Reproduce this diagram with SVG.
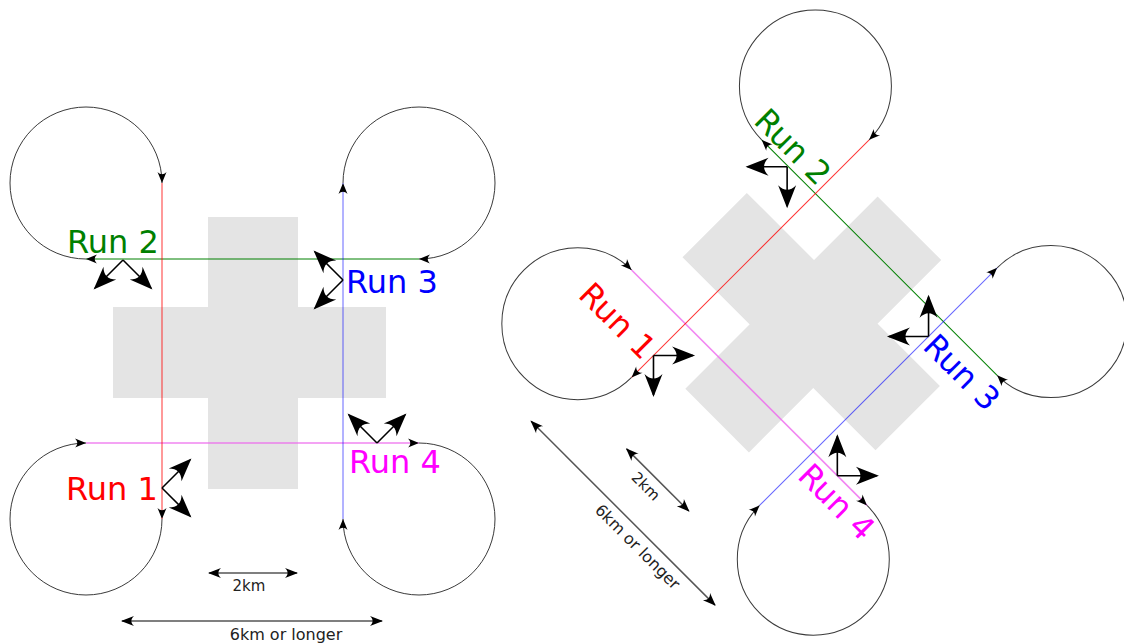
<svg xmlns="http://www.w3.org/2000/svg" width="1124" height="644" viewBox="0 0 1124 644">
<style>
.bg{fill:#fff}
.cross{fill:#e4e4e4;stroke:none}
.loop{fill:none;stroke:#3a3a3a;stroke-width:1;marker-end:url(#arr)}
.run1{fill:none;stroke:#ff0000;stroke-opacity:0.8;stroke-width:1;marker-end:url(#arr)}
.run2{fill:none;stroke:#008000;stroke-width:1;marker-end:url(#arr)}
.run3{fill:none;stroke:#0000ff;stroke-opacity:0.6;stroke-width:1;marker-end:url(#arr)}
.run4{fill:none;stroke:#ee66ee;stroke-opacity:0.8;stroke-width:1.6;marker-end:url(#arr)}
.axis{fill:none;stroke:#000;stroke-width:1.6;marker-end:url(#big)}
.dim{fill:none;stroke:#555;stroke-width:1.5;marker-start:url(#dimarr);marker-end:url(#dimarr)}
.lbl{font-family:"DejaVu Sans","Verdana",sans-serif;font-size:32px}
.dimtxt{font-family:"DejaVu Sans","Verdana",sans-serif;fill:#222}
</style>
<defs>
<marker id="arr" viewBox="-12 -6 14 12" refX="0" refY="0" markerWidth="14" markerHeight="12" markerUnits="userSpaceOnUse" orient="auto">
<path d="M0,0 L-11,-4.5 C-8,-1.5 -8,1.5 -11,4.5 Z" fill="#000"/>
</marker>
<marker id="dimarr" viewBox="-14 -6 16 12" refX="0" refY="0" markerWidth="16" markerHeight="12" markerUnits="userSpaceOnUse" orient="auto-start-reverse">
<path d="M1,0 L-12,-5 C-8.5,-1.5 -8.5,1.5 -12,5 Z" fill="#000"/>
</marker>
<marker id="big" viewBox="-24 -11 28 22" refX="0" refY="0" markerWidth="28" markerHeight="22" markerUnits="userSpaceOnUse" orient="auto">
<path d="M2,0 L-21,-9 C-15,-3 -15,3 -21,9 Z" fill="#000"/>
</marker>
</defs>
<rect class="bg" x="0" y="0" width="1124" height="644"/>

<g id="diagram-left">
  <g id="cross">
    <rect class="cross" x="208" y="217" width="90" height="272"/>
    <rect class="cross" x="113" y="307" width="273" height="91"/>
  </g>
  <g id="loop-nw"><path class="loop" d="M86,259 A76,76 0 1 1 162,183"/></g>
  <g id="loop-ne"><path class="loop" d="M343,183 A76,76 0 1 1 419,259"/></g>
  <g id="loop-sw"><path class="loop" d="M162,519 A76,76 0 1 1 86,443"/></g>
  <g id="loop-se"><path class="loop" d="M419,443 A76,76 0 1 1 343,519"/></g>
  <g id="connectors">
    <path class="run4" d="M86,443 H419"/>
    <path class="run2" d="M419,259 H86"/>
    <path class="run3" d="M343,519 V183"/>
    <path class="run1" d="M162,183 V519"/>
  </g>
  <g id="run2">
    <text class="lbl" x="67" y="253" fill="#008000">Run 2</text>
    <path class="axis" d="M123,260 L95,288"/>
    <path class="axis" d="M123,260 L151,288"/>
  </g>
  <g id="run3">
    <text class="lbl" x="346" y="293" fill="#0000ff">Run 3</text>
    <path class="axis" d="M343,280 L315,252"/>
    <path class="axis" d="M343,280 L315,308"/>
  </g>
  <g id="run1">
    <text class="lbl" x="66" y="500" fill="#ff0000">Run 1</text>
    <path class="axis" d="M162,488 L190,460"/>
    <path class="axis" d="M162,488 L190,516"/>
  </g>
  <g id="run4">
    <text class="lbl" x="349" y="473" fill="#ff00ff">Run 4</text>
    <path class="axis" d="M377,443 L349,415"/>
    <path class="axis" d="M377,443 L405,415"/>
  </g>
  <g id="scale-2km">
    <path class="dim" d="M209,573 H297"/>
    <text class="dimtxt" x="249" y="591" font-size="15" text-anchor="middle">2km</text>
  </g>
  <g id="scale-6km">
    <path class="dim" d="M122,621 H382"/>
    <text class="dimtxt" x="286" y="640" font-size="16" text-anchor="middle">6km or longer</text>
  </g>
</g>

<g id="diagram-right" transform="translate(814,323) rotate(45) translate(-252.5,-351.5)">
  <g id="cross-r">
    <rect class="cross" x="208" y="217" width="90" height="272"/>
    <rect class="cross" x="113" y="307" width="273" height="91"/>
  </g>
  <g id="loop-nw-r"><path class="loop" d="M86,259 A76,76 0 1 1 162,183"/></g>
  <g id="loop-ne-r"><path class="loop" d="M343,183 A76,76 0 1 1 419,259"/></g>
  <g id="loop-sw-r"><path class="loop" d="M162,519 A76,76 0 1 1 86,443"/></g>
  <g id="loop-se-r"><path class="loop" d="M419,443 A76,76 0 1 1 343,519"/></g>
  <g id="connectors-r">
    <path class="run4" d="M86,443 H419"/>
    <path class="run2" d="M419,259 H86"/>
    <path class="run3" d="M343,519 V183"/>
    <path class="run1" d="M162,183 V519"/>
  </g>
  <g id="run2-r">
    <text class="lbl" x="67" y="253" fill="#008000">Run 2</text>
    <path class="axis" d="M123,260 L95,288"/>
    <path class="axis" d="M123,260 L151,288"/>
  </g>
  <g id="run3-r">
    <text class="lbl" x="346" y="293" fill="#0000ff">Run 3</text>
    <path class="axis" d="M343,280 L315,252"/>
    <path class="axis" d="M343,280 L315,308"/>
  </g>
  <g id="run1-r">
    <text class="lbl" x="66" y="500" fill="#ff0000">Run 1</text>
    <path class="axis" d="M162,488 L190,460"/>
    <path class="axis" d="M162,488 L190,516"/>
  </g>
  <g id="run4-r">
    <text class="lbl" x="349" y="473" fill="#ff00ff">Run 4</text>
    <path class="axis" d="M377,443 L349,415"/>
    <path class="axis" d="M377,443 L405,415"/>
  </g>
  <g id="scale-2km-r">
    <path class="dim" d="M209,573 H297"/>
    <text class="dimtxt" x="249" y="591" font-size="15" text-anchor="middle">2km</text>
  </g>
  <g id="scale-6km-r">
    <path class="dim" d="M122,621 H382"/>
    <text class="dimtxt" x="286" y="640" font-size="16" text-anchor="middle">6km or longer</text>
  </g>
</g>
</svg>
